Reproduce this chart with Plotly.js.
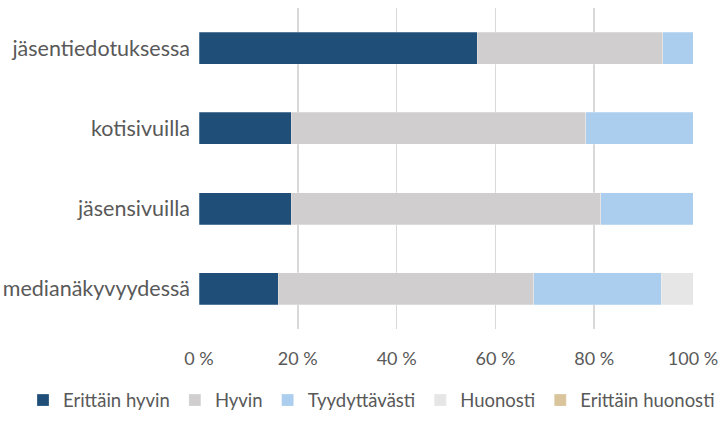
<!DOCTYPE html>
<html><head><meta charset="utf-8">
<script src="https://cdn.plot.ly/plotly-3.0.1.min.js"></script>
<style>html,body{margin:0;padding:0;background:#fff}#c{width:720px;height:427px}</style>
</head><body><div id="c"></div>
<script>
const categories = ["jäsentiedotuksessa", "kotisivuilla", "jäsensivuilla", "medianäkyvyydessä"];
const seriesNames = ["Erittäin hyvin", "Hyvin", "Tyydyttävästi", "Huonosti", "Erittäin huonosti"];
const erittainHyvin = [56.3, 18.7, 18.7, 16.0];
const hyvin = [37.6, 59.6, 62.6, 51.8];
const tyydyttavasti = [6.1, 21.7, 18.7, 25.8];
const huonosti = [0, 0, 0, 6.4];
const erittainHuonosti = [0, 0, 0, 0];
const tickVals = [0, 20, 40, 60, 80, 100];
const tickText = ["0 %", "20 %", "40 %", "60 %", "80 %", "100 %"];

const colors = ["#1F4E79", "#D0CECE", "#ABCDEE", "#E7E6E6", "#D9C49C"];
const vals = [erittainHyvin, hyvin, tyydyttavasti, huonosti, erittainHuonosti];
const traces = vals.map((v, i) => ({
  type: "bar", orientation: "h", name: seriesNames[i],
  y: categories, x: v,
  marker: {color: colors[i], line: {color: "rgba(255,255,255,0.5)", width: 0.5}},
  hoverinfo: "x+y+name"
}));
const font = "Lato, 'Open Sans', sans-serif";
const layout = {
  width: 720, height: 427,
  margin: {l: 199, r: 27, t: 8, b: 87},
  barmode: "stack", bargap: 0.6,
  paper_bgcolor: "#fff", plot_bgcolor: "#fff",
  font: {family: font, size: 18, color: "#595959"},
  xaxis: {range: [0, 100], tickvals: tickVals, ticktext: tickText,
    showgrid: true, gridcolor: "#D9D9D9", gridwidth: 1.5, zeroline: false,
    showline: false, ticks: "", tickfont: {size: 18, color: "#595959"}, ticklabelstandoff: 17, fixedrange: true},
  yaxis: {categoryorder: "array", categoryarray: categories.slice().reverse(), autorange: true,
    showgrid: false, zeroline: false, ticks: "", ticklen: 0, tickfont: {size: 21.5, color: "#595959"}, ticklabelstandoff: 8},
  legend: {orientation: "h", x: -0.345, xanchor: "left", y: -0.223, yanchor: "middle",
    font: {size: 18.5, color: "#595959"}, traceorder: "normal", itemwidth: 30, tracegroupgap: 0},
  showlegend: true
};
Plotly.newPlot("c", traces, layout, {displayModeBar: false, staticPlot: true});
</script></body></html>
